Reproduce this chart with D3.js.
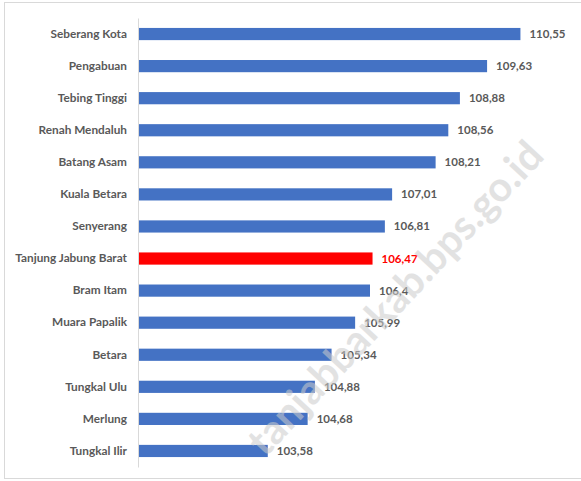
<!DOCTYPE html>
<html>
<head>
<meta charset="utf-8">
<script src="https://cdn.jsdelivr.net/npm/d3@7"></script>
<style>
  body { margin: 0; background: #fff; }
  text { font-family: Lato, "Open Sans", sans-serif; font-weight: bold; }
</style>
</head>
<body>
<div class="canvas"></div>
<script>
// data
const districts = ['Seberang Kota', 'Pengabuan', 'Tebing Tinggi', 'Renah Mendaluh', 'Batang Asam',
  'Kuala Betara', 'Senyerang', 'Tanjung Jabung Barat', 'Bram Itam', 'Muara Papalik',
  'Betara', 'Tungkal Ulu', 'Merlung', 'Tungkal Ilir'];
const values = [110.55, 109.63, 108.88, 108.56, 108.21, 107.01, 106.81, 106.47, 106.4, 105.99,
  105.34, 104.88, 104.68, 103.58];
const highlight = 'Tanjung Jabung Barat';

const rows = districts.map((name, i) => ({ name, value: values[i] }));

const dims = { width: 581, height: 481 };

const svg = d3.select('.canvas')
  .append('svg')
  .attr('width', dims.width)
  .attr('height', dims.height);

// outer frame
svg.append('rect')
  .attr('x', 4.5).attr('y', 2.5)
  .attr('width', 580).attr('height', 476)
  .attr('fill', 'none')
  .attr('stroke', '#d9d9d9');

const x = d3.scaleLinear().domain([100, 112]).range([138, 573]);
const y = d3.scaleBand().domain(districts).range([18, 467]).paddingInner(0.62).paddingOuter(0.31);

// bars
svg.selectAll('.bar').data(rows).enter()
  .append('rect')
  .attr('class', 'bar')
  .attr('x', x(100))
  .attr('y', d => y(d.name))
  .attr('width', d => x(d.value) - x(100))
  .attr('height', y.bandwidth())
  .attr('fill', d => d.name === highlight ? '#ff0000' : '#4472c4');

// category axis
const yAxis = svg.append('g')
  .attr('transform', `translate(${x(100)},0)`)
  .call(d3.axisLeft(y).tickSize(0).tickPadding(11));
yAxis.select('.domain').attr('stroke', '#d9d9d9');
yAxis.selectAll('text')
  .attr('font-size', 11.8)
  .attr('fill', '#595959')
  .style('font-family', 'Lato, sans-serif');

// value labels
svg.selectAll('.val').data(rows).enter()
  .append('text')
  .attr('class', 'val')
  .attr('x', d => x(d.value) + 9)
  .attr('y', d => y(d.name) + y.bandwidth() / 2)
  .attr('dy', '0.35em')
  .attr('font-size', 11.5)
  .attr('fill', d => d.name === highlight ? '#ff0000' : '#595959')
  .text(d => String(d.value).replace('.', ','));

// watermark
svg.append('text')
  .attr('transform', 'translate(395,298) rotate(-47)')
  .attr('text-anchor', 'middle')
  .attr('dy', '0.35em')
  .attr('font-size', 41)
  .attr('font-weight', 900)
  .attr('fill', '#cccccc')
  .attr('opacity', 0.55)
  .text('tanjabbarkab.bps.go.id');
</script>
</body>
</html>
